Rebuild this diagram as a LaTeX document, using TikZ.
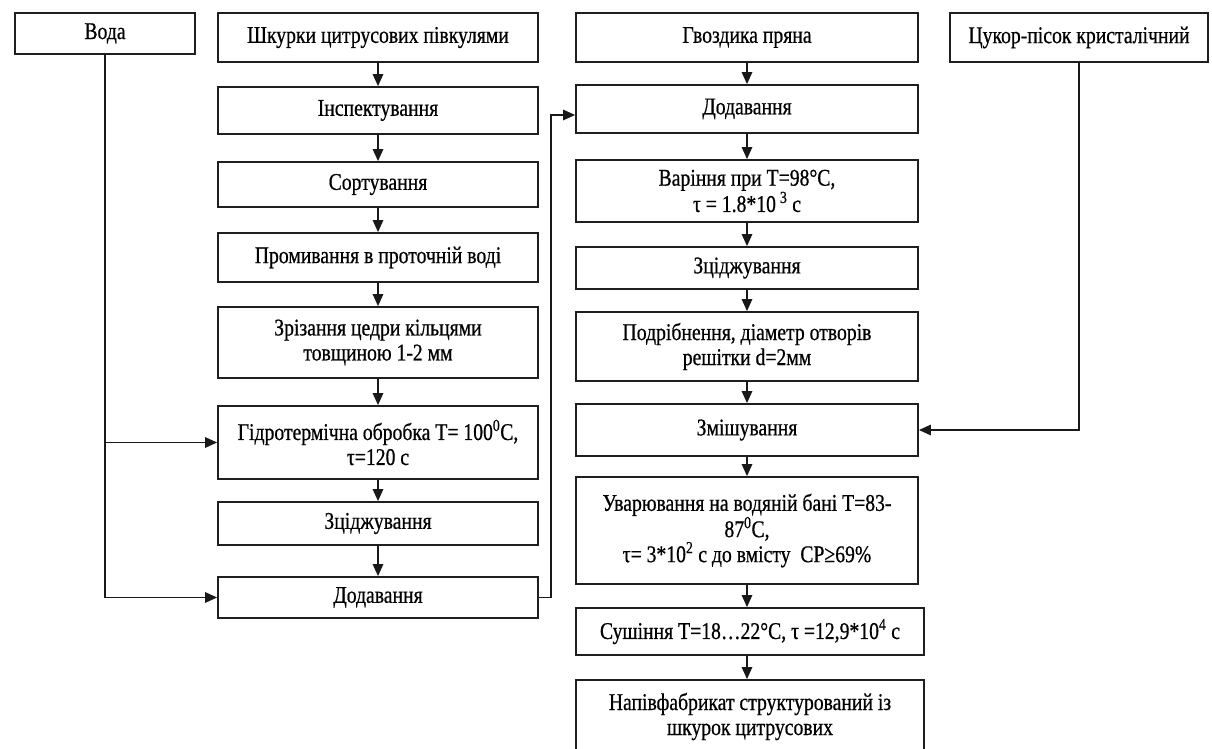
\documentclass[tikz,border=0pt]{standalone}
\usepackage{fontspec}
\setmainfont{Liberation Serif}[FakeStretch=0.82,FakeBold=0.6]
\usetikzlibrary{arrows.meta}
\begin{document}
\begin{tikzpicture}[x=1pt,y=-1pt,
  bx/.style={draw=black!88, line width=1.8pt, inner sep=0pt, align=center,
    font=\fontsize{24}{25}\selectfont},
  arr/.style={draw=black!90, line width=1.4pt, -{Triangle[length=12pt,width=10.5pt]}}]
\clip (0,0) rectangle (1212,749);
\fill[white] (0,0) rectangle (1212,749);
% left column
\node[bx, minimum width=180pt, minimum height=41pt] (voda) at (105,33.5) {Вода};
\node[bx, minimum width=320pt, minimum height=49pt] (skin) at (378,37.5) {Шкурки цитрусових півкулями};
\node[bx, minimum width=320pt, minimum height=47pt] (insp) at (378,110.5) {Інспектування};
\node[bx, minimum width=320pt, minimum height=45pt] (sort) at (378,184.5) {Сортування};
\node[bx, minimum width=320pt, minimum height=49pt] (wash) at (378,257.5) {Промивання в проточній воді};
\node[bx, minimum width=320pt, minimum height=71pt] (cut) at (378,342.5) {Зрізання цедри кільцями\\товщиною 1-2 мм};
\node[bx, minimum width=320pt, minimum height=73pt] (gidro) at (378,442.5) {Гідротермічна обробка Т= 100\textsuperscript{0}С,\\τ=120 с};
\node[bx, minimum width=320pt, minimum height=43pt] (drain1) at (378,523.5) {Зціджування};
\node[bx, minimum width=320pt, minimum height=41pt] (add1) at (378,597.5) {Додавання};
% right column
\node[bx, minimum width=342pt, minimum height=49pt] (clove) at (747,37.5) {Гвоздика пряна};
\node[bx, minimum width=258pt, minimum height=49pt] (sugar) at (1079,37.5) {Цукор-пісок кристалічний};
\node[bx, minimum width=342pt, minimum height=48pt] (add2) at (747,109) {Додавання};
\node[bx, minimum width=342pt, minimum height=62pt] (boil) at (747,191) {Варіння при Т=98°С,\\τ = 1.8*10\,\textsuperscript{3} с};
\node[bx, minimum width=342pt, minimum height=42pt] (drain2) at (747,268) {Зціджування};
\node[bx, minimum width=342pt, minimum height=69pt] (grind) at (747,346.5) {Подрібнення, діаметр отворів\\решітки d=2мм};
\node[bx, minimum width=342pt, minimum height=52pt] (mix) at (747,430) {Змішування};
\node[bx, minimum width=342pt, minimum height=107pt] (uvar) at (747,530.5) {Уварювання на водяній бані Т=83-\\87\textsuperscript{0}С,\\τ= 3*10\textsuperscript{2} с до вмісту\ \ СР≥69\%};
\node[bx, minimum width=348pt, minimum height=47pt] (dry) at (750,631.5) {Сушіння Т=18…22°С, τ =12,9*10\textsuperscript{4} с};
\node[bx, minimum width=348pt, minimum height=73pt] (semi) at (750,716.5) {Напівфабрикат структурований із\\шкурок цитрусових};
% connectors left
\draw[arr] (skin.south) -- (insp.north);
\draw[arr] (insp.south) -- (sort.north);
\draw[arr] (sort.south) -- (wash.north);
\draw[arr] (wash.south) -- (cut.north);
\draw[arr] (cut.south) -- (gidro.north);
\draw[arr] (gidro.south) -- (drain1.north);
\draw[arr] (drain1.south) -- (add1.north);
\draw[arr] (voda.south) |- (add1.west);
\draw[arr] (voda.south |- gidro.west) -- (gidro.west);
\draw[arr] (add1.east) -- ++(12,0) |- ([yshift=-6pt]add2.west);
% connectors right
\draw[arr] (clove.south) -- (add2.north);
\draw[arr] (add2.south) -- (boil.north);
\draw[arr] (boil.south) -- (drain2.north);
\draw[arr] (drain2.south) -- (grind.north);
\draw[arr] (grind.south) -- (mix.north);
\draw[arr] (mix.south) -- (uvar.north);
\draw[arr] (uvar.south) -- (uvar.south |- dry.north);
\draw[arr] (uvar.south |- dry.south) -- (uvar.south |- semi.north);
\draw[arr] (sugar.south) |- (mix.east);
\end{tikzpicture}
\end{document}
